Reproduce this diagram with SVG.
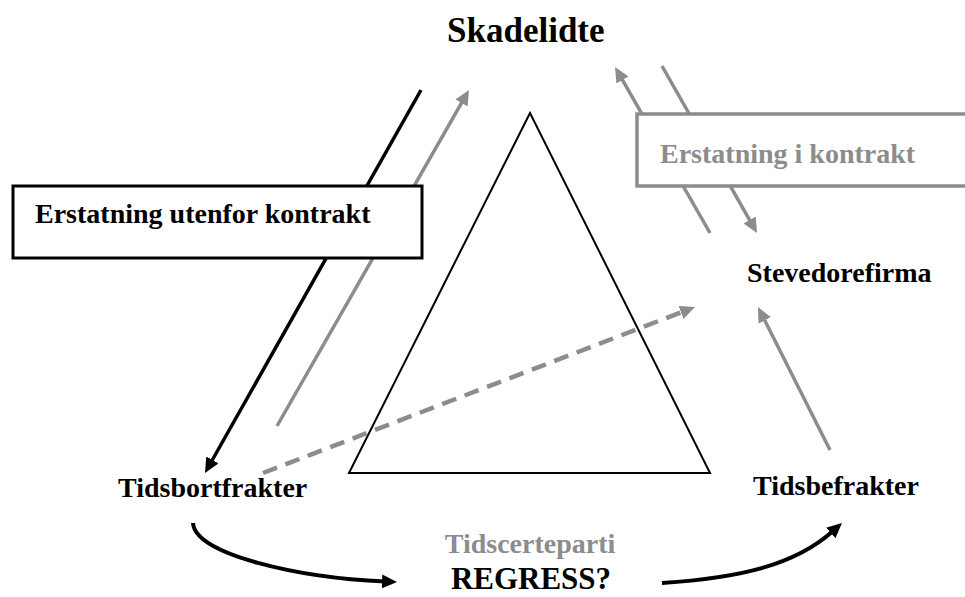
<svg xmlns="http://www.w3.org/2000/svg" width="965" height="597" viewBox="0 0 965 597">
  <style>
    text { font-family: "Liberation Serif", "Times New Roman", serif; font-weight: bold; }
    .lbl { font-size: 28px; fill: #000; }
    .grey-lbl { font-size: 28px; fill: #8c8c8c; }
    .blk { stroke: #000; stroke-width: 3.5; fill: none; }
    .gry { stroke: #8c8c8c; stroke-width: 3.5; fill: none; }
    .dash { stroke: #8c8c8c; stroke-width: 4.5; fill: none; stroke-dasharray: 15 9; }
    .curve { stroke: #000; stroke-width: 4; fill: none; }
  </style>
  <defs>
    <marker id="headBlack" markerUnits="userSpaceOnUse" markerWidth="16" markerHeight="16" refX="3" refY="7" orient="auto">
      <path d="M0,0 L15,7 L0,14 z" fill="#000"/>
    </marker>
    <marker id="headGrey" markerUnits="userSpaceOnUse" markerWidth="16" markerHeight="16" refX="3" refY="7" orient="auto">
      <path d="M0,0 L15,7 L0,14 z" fill="#8c8c8c"/>
    </marker>
  </defs>

  <rect width="965" height="597" fill="#fff"/>

  <!-- central triangle -->
  <polygon points="530,113 349,473 710,473" fill="none" stroke="#000" stroke-width="2"/>

  <g id="connectors">
    <line class="blk" x1="421" y1="90" x2="210.9" y2="462.5" marker-end="url(#headBlack)"/>
    <line class="gry" x1="277" y1="426" x2="463" y2="100.4" marker-end="url(#headGrey)"/>
    <line class="gry" x1="710" y1="233" x2="621" y2="77.4" marker-end="url(#headGrey)"/>
    <line class="gry" x1="662" y1="66" x2="751.1" y2="222.6" marker-end="url(#headGrey)"/>
    <line class="gry" x1="830" y1="450" x2="763.4" y2="317.7" marker-end="url(#headGrey)"/>
    <line class="dash" x1="263" y1="473" x2="683.8" y2="311.3" marker-end="url(#headGrey)"/>
    <path class="curve" d="M193,523 C195,555 300,578 385,581.5" marker-end="url(#headBlack)"/>
    <path class="curve" d="M662,583 C740,578 795,565 833,531" marker-end="url(#headBlack)"/>
  </g>

  <g id="box-utenfor">
    <rect x="13" y="186" width="409" height="72" fill="#fff" stroke="#000" stroke-width="3"/>
    <text class="lbl" x="35" y="223">Erstatning utenfor kontrakt</text>
  </g>

  <g id="box-kontrakt">
    <rect x="637" y="114" width="340" height="72" fill="#fff" stroke="#8c8c8c" stroke-width="3.5"/>
    <text class="grey-lbl" x="660" y="163">Erstatning i kontrakt</text>
  </g>

  <g id="skadelidte">
    <text x="447" y="42" font-size="35">Skadelidte</text>
  </g>

  <g id="stevedorefirma">
    <text class="lbl" x="747" y="282">Stevedorefirma</text>
  </g>

  <g id="tidsbortfrakter">
    <text class="lbl" x="118" y="497">Tidsbortfrakter</text>
  </g>

  <g id="tidsbefrakter">
    <text class="lbl" x="753" y="495">Tidsbefrakter</text>
  </g>

  <g id="regress">
    <text class="grey-lbl" x="530" y="553" text-anchor="middle" font-size="27">Tidscerteparti</text>
    <text x="531" y="589" text-anchor="middle" font-size="31">REGRESS?</text>
  </g>
</svg>
